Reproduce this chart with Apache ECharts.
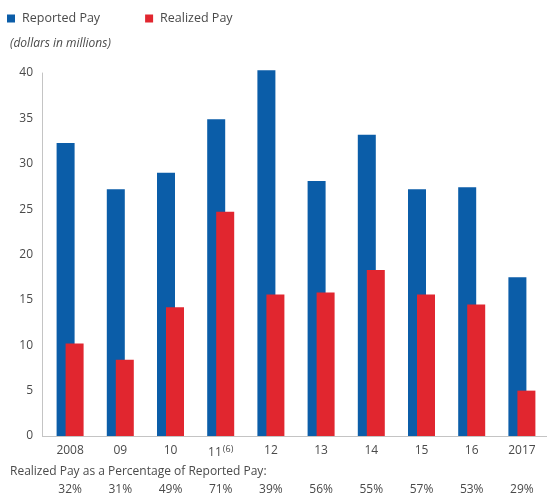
<!DOCTYPE html>
<html>
<head>
<meta charset="utf-8">
<script src="https://cdn.jsdelivr.net/npm/echarts@6/dist/echarts.min.js"></script>
<style>html,body{margin:0;padding:0;background:#fff}#c{width:547px;height:504px}</style>
</head>
<body>
<div id="c"></div>
<script>
var categories = ['2008', '09', '10', '11', '12', '13', '14', '15', '16', '2017'];
var reportedPay = [32.3, 27.2, 29.0, 34.9, 40.3, 28.1, 33.2, 27.2, 27.4, 17.5];
var realizedPay = [10.2, 8.4, 14.2, 24.7, 15.6, 15.8, 18.3, 15.6, 14.5, 5.0];
var pctLabels = ['32%', '31%', '49%', '71%', '39%', '56%', '55%', '57%', '53%', '29%'];
var yTicks = [0, 5, 10, 15, 20, 25, 30, 35, 40];

var FONT = '"Open Sans", "Noto Sans", sans-serif';
var TXT = '#4a4a4a';
var chart = echarts.init(document.getElementById('c'), null, {renderer: 'canvas'});
chart.setOption({
  animation: false,
  textStyle: {fontFamily: FONT},
  legend: {
    left: 2, top: 7,
    icon: 'rect', itemWidth: 8, itemHeight: 8, itemGap: 45,
    textStyle: {fontFamily: FONT, fontSize: 12.5, color: TXT, padding: [0, 0, 0, 2]},
    data: ['Reported Pay', 'Realized Pay']
  },
  title: [
    {text: '(dollars in millions)', left: 5, top: 33,
      textStyle: {fontFamily: FONT, fontSize: 12, fontStyle: 'italic', fontWeight: 'normal', color: TXT}},
    {text: 'Realized Pay as a Percentage of Reported Pay:', left: 5, top: 461,
      textStyle: {fontFamily: FONT, fontSize: 12, fontWeight: 'normal', color: TXT}}
  ],
  grid: {left: 45, right: 0, top: 73, bottom: 68, containLabel: false},
  xAxis: [
    {type: 'category', data: categories, position: 'bottom',
      axisLine: {show: true, lineStyle: {color: '#c4c4c4', width: 1}},
      axisTick: {show: false},
      axisLabel: {interval: 0, fontFamily: FONT, fontSize: 12, color: TXT, margin: 9,
        formatter: function (v) { return v === '11' ? '11{sup|(6)}' : v; },
        rich: {sup: {fontSize: 9, color: TXT, verticalAlign: 'top', padding: [0, 0, 6, 1], fontFamily: FONT}}}
    },
    {type: 'category', data: pctLabels, position: 'bottom', offset: 48,
      axisLine: {show: false}, axisTick: {show: false},
      axisLabel: {interval: 0, fontFamily: FONT, fontSize: 12, color: TXT, margin: 0}
    }
  ],
  yAxis: {
    type: 'value', min: yTicks[0], max: yTicks[yTicks.length - 1], interval: 5, offset: 3,
    axisLine: {show: true, lineStyle: {color: '#c4c4c4', width: 1}},
    axisTick: {show: false},
    splitLine: {show: false},
    axisLabel: {fontFamily: FONT, fontSize: 12, color: TXT, margin: 9}
  },
  graphic: [
    {type: 'line', shape: {x1: 42, y1: 436.5, x2: 46, y2: 436.5}, style: {stroke: '#c4c4c4', lineWidth: 1}}
  ],
  series: [
    {name: 'Reported Pay', type: 'bar', data: reportedPay, barWidth: 18, barGap: '-50%', clip: false,
      itemStyle: {color: '#0b5da8'}, xAxisIndex: 0},
    {name: 'Realized Pay', type: 'bar', data: realizedPay, barWidth: 18, barGap: '-50%', clip: false,
      itemStyle: {color: '#e1262f'}, xAxisIndex: 0}
  ]
});
</script>
</body>
</html>
